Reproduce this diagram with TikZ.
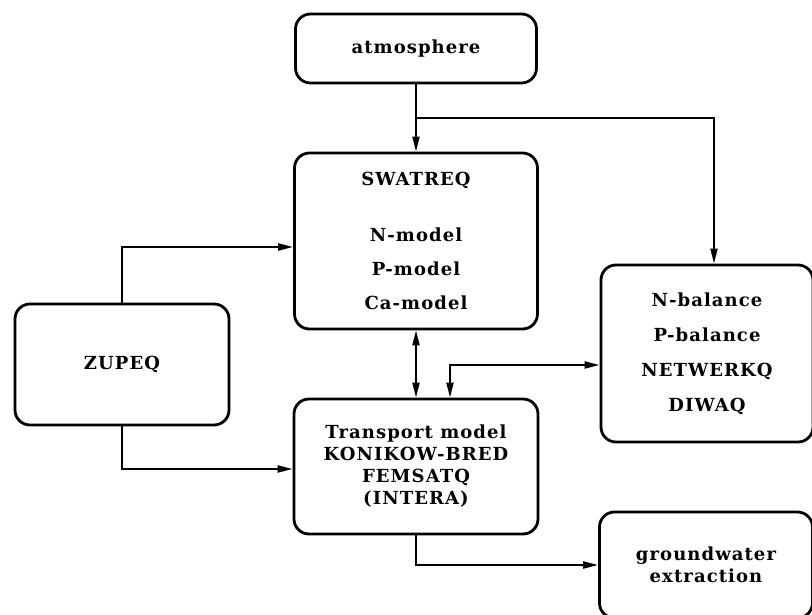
\documentclass[tikz,border=0pt]{standalone}
\usepackage{fontspec}
\setmainfont{DejaVu Serif}[LetterSpace=6]
\usetikzlibrary{arrows.meta}
\begin{document}
\begin{tikzpicture}[x=1pt,y=-1pt,
  box/.style={draw, line width=2.8pt, rounded corners=15pt, inner sep=0pt,
    align=center, font=\fontsize{18}{34}\selectfont\bfseries},
  conn/.style={line width=2pt, -{Triangle[length=15pt,width=7pt]}},
  conn2/.style={line width=2pt, {Triangle[length=15pt,width=7pt]}-{Triangle[length=15pt,width=7pt]}}]
\useasboundingbox (0,0) rectangle (812,615);
\node[box, minimum width=241pt, minimum height=69pt] (atm) at (416,48.5) {atmosphere};
\node[box, minimum width=243pt, minimum height=176pt] (swat) at (416,241)
  {SWATREQ\\[22pt]N-model\\P-model\\Ca-model};
\node[box, minimum width=214pt, minimum height=121pt] (zup) at (122,364.5) {ZUPEQ};
\node[box, minimum width=244pt, minimum height=135pt, font=\fontsize{18}{22}\selectfont\bfseries] (trans) at (416,466.5)
  {Transport model\\KONIKOW-BRED\\FEMSATQ\\(INTERA)};
\node[box, minimum width=212pt, minimum height=177pt, font=\fontsize{18}{35}\selectfont\bfseries] (bal) at (707,353.5)
  {N-balance\\P-balance\\NETWERKQ\\DIWAQ};
\node[box, minimum width=213pt, minimum height=106pt, font=\fontsize{18}{22}\selectfont\bfseries] (gw) at (706,565)
  {groundwater\\extraction};
\coordinate (br) at (416,118);
\draw[conn] (atm.south) -- (swat.north);
\draw[conn] (br) -| ([xshift=7pt]bal.north);
\draw[conn] (zup.north) |- ([yshift=-6pt]swat.west);
\draw[conn] (zup.south) |- ([yshift=-2.5pt]trans.west);
\draw[conn2] (swat.south) -- (trans.north);
\draw[conn2] ([xshift=34pt]trans.north) |- ([yshift=-11.5pt]bal.west);
\draw[conn] (trans.south) |- (gw.west);
\end{tikzpicture}
\end{document}
